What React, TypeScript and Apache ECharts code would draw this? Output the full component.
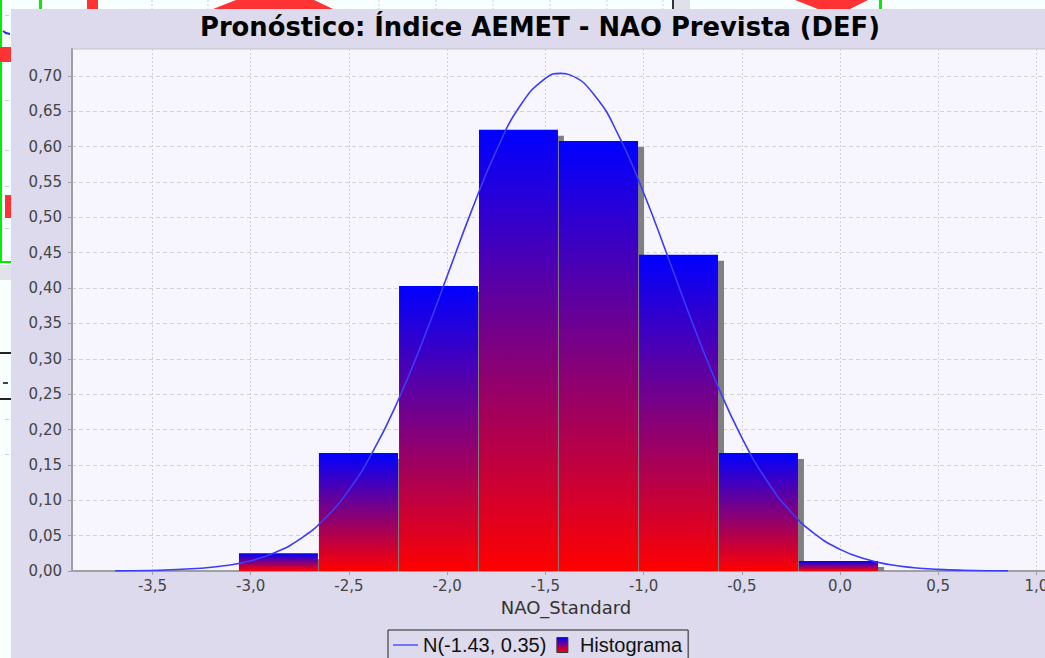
import React, { useEffect, useRef } from 'react';
import * as echarts from 'echarts';

// Histogram bins (edges) and densities
const binEdges = [-3.06, -2.653, -2.245, -1.838, -1.431, -1.023, -0.616, -0.209, 0.199];
const binHeights = [0.025, 0.167, 0.403, 0.624, 0.608, 0.447, 0.167, 0.014];

// Fitted curve points
const curveX = [-3.69, -3.5, -3.25, -3.125, -3.0, -2.875, -2.75, -2.625, -2.5, -2.375, -2.25, -2.125, -2.0, -1.875, -1.75, -1.625, -1.5, -1.42, -1.375, -1.25, -1.125, -1.0, -0.875, -0.75, -0.625, -0.5, -0.375, -0.25, -0.125, 0.0, 0.125, 0.25, 0.375, 0.5, 0.625, 0.855];
const curveY = [0.0002, 0.0008, 0.0039, 0.0077, 0.0145, 0.0262, 0.045, 0.0736, 0.1147, 0.1704, 0.241, 0.3248, 0.417, 0.5099, 0.594, 0.6591, 0.6966, 0.7036, 0.7014, 0.6727, 0.6145, 0.5348, 0.4433, 0.35, 0.2633, 0.1887, 0.1288, 0.0837, 0.0518, 0.0306, 0.0172, 0.0092, 0.0047, 0.0023, 0.0011, 0.0002];

// Tick values
const xTicks = [-3.5, -3.0, -2.5, -2.0, -1.5, -1.0, -0.5, 0.0, 0.5, 1.0];
const yTicks = [0, 0.05, 0.1, 0.15, 0.2, 0.25, 0.3, 0.35, 0.4, 0.45, 0.5, 0.55, 0.6, 0.65, 0.7];

const titleText = 'Pronóstico: Índice AEMET - NAO Prevista (DEF)';
const xName = 'NAO_Standard';
const curveName = 'N(-1.43, 0.35)';
const histName = 'Histograma';

export default function App() {
  const ref = useRef<HTMLDivElement>(null);
  useEffect(() => {
    const chart = echarts.init(ref.current as HTMLDivElement, undefined, { renderer: 'svg' });
    const grad = () =>
      new echarts.graphic.LinearGradient(0, 0, 0, 1, [
        { offset: 0, color: '#0000ff' },
        { offset: 1, color: '#ff0000' },
      ]);
    const barData = binHeights.map((h, i) => [binEdges[i], binEdges[i + 1], h]);
    const curveData = curveX.map((x, i) => [x, curveY[i]]);

    const red = '#ff3333';
    const green = '#00ee00';
    const topGridXs = [152, 208, 379, 436, 493, 550, 607, 663];
    const debris: any[] = [
      ...topGridXs.map((x) => ({
        type: 'line', z: -100, silent: true,
        shape: { x1: x, y1: 0, x2: x, y2: 9 },
        style: { stroke: '#cfcfcf', lineWidth: 1, lineDash: [2, 2] },
      })),
      { type: 'rect', z: -99, silent: true, shape: { x: 39, y: 0, width: 3, height: 9 }, style: { fill: green } },
      { type: 'rect', z: -99, silent: true, shape: { x: 87, y: 0, width: 11, height: 9 }, style: { fill: red } },
      { type: 'polygon', z: -99, silent: true, shape: { points: [[213, 9], [236, 0], [314, 0], [333, 9]] }, style: { fill: red } },
      { type: 'polygon', z: -99, silent: true, shape: { points: [[795, 0], [868, 0], [850, 9], [818, 9]] }, style: { fill: red } },
      { type: 'rect', z: -99, silent: true, shape: { x: 879, y: 0, width: 3, height: 9 }, style: { fill: green } },
      { type: 'rect', z: -99, silent: true, shape: { x: 674, y: 0, width: 16, height: 9 }, style: { fill: '#dfe0ea' } },
      { type: 'rect', z: -99, silent: true, shape: { x: 672, y: 0, width: 2, height: 9 }, style: { fill: '#333' } },
      { type: 'rect', z: -99, silent: true, shape: { x: 0, y: 0, width: 2, height: 263 }, style: { fill: green } },
      { type: 'rect', z: -99, silent: true, shape: { x: 0, y: 261, width: 11, height: 2 }, style: { fill: green } },
      { type: 'rect', z: -99, silent: true, shape: { x: 0, y: 47, width: 11, height: 15 }, style: { fill: red } },
      { type: 'rect', z: -99, silent: true, shape: { x: 5, y: 195, width: 6, height: 23 }, style: { fill: red } },
      { type: 'polyline', z: -99, silent: true, shape: { points: [[3, 31], [6, 33], [10, 34]] }, style: { stroke: '#2233dd', lineWidth: 2 } },
      { type: 'rect', z: -99, silent: true, shape: { x: 0, y: 265, width: 11, height: 15 }, style: { fill: '#e2e3ea' } },
      { type: 'rect', z: -99, silent: true, shape: { x: 0, y: 352, width: 11, height: 2 }, style: { fill: '#222' } },
      { type: 'rect', z: -99, silent: true, shape: { x: 0, y: 398, width: 11, height: 2 }, style: { fill: '#222' } },
      { type: 'rect', z: -99, silent: true, shape: { x: 3, y: 382, width: 5, height: 2 }, style: { fill: '#444' } },
      ...[15, 100, 150, 186, 228, 419, 454].map((y) => ({
        type: 'rect', z: -99, silent: true, shape: { x: 5, y, width: 4, height: 1 }, style: { fill: '#d0d0d0' },
      })),
      { type: 'rect', z: -90, silent: true, shape: { x: 11, y: 9, width: 1200, height: 800 }, style: { fill: '#DCDAEC' } },
    ];

    chart.setOption({
      animation: false,
      backgroundColor: '#F7FFFF',
      graphic: { elements: debris },
      title: {
        text: titleText,
        left: 'center',
        top: 12,
        padding: 0,
        textStyle: { fontFamily: 'DejaVu Sans', fontWeight: 'bold', fontSize: 25.8, lineHeight: 30, color: '#000' },
      },
      legend: {
        left: 388,
        top: 630,
        orient: 'horizontal',
        padding: [5, 6, 5, 5],
        itemGap: 10,
        itemWidth: 25,
        itemHeight: 15,
        borderColor: '#222',
        borderWidth: 1,
        borderRadius: 0,
        backgroundColor: '#DCDAEC',
        selectedMode: false,
        textStyle: { fontFamily: 'Liberation Sans', fontSize: 20, color: '#111' },
        data: [
          { name: curveName, icon: 'path://M0,0h25v1.6h-25z' },
          { name: histName, icon: 'path://M0,0h11v15h-11z', itemStyle: { borderColor: '#333', borderWidth: 1 } },
        ],
      },
      grid: {
        left: 72,
        right: 20,
        top: 49,
        bottom: 87,
        show: true,
        backgroundColor: '#F7F6FE',
        borderColor: '#c4c4c4',
        borderWidth: 1,
        containLabel: false,
      },
      xAxis: {
        type: 'value',
        min: -3.91,
        max: 1.12,
        splitNumber: 10,
        name: xName,
        nameLocation: 'middle',
        nameGap: 27,
        nameTextStyle: { fontFamily: 'DejaVu Sans', fontSize: 18, color: '#333' },
        axisLine: { show: true, onZero: false, lineStyle: { color: '#a0a0a0', width: 2 } },
        axisTick: { show: true, length: 4, customValues: xTicks, lineStyle: { color: '#a0a0a0' } },
        axisLabel: {
          customValues: xTicks,
          margin: 7,
          fontFamily: 'DejaVu Sans',
          fontSize: 15,
          color: '#444',
          formatter: (v: number) => v.toFixed(1).replace('.', ','),
        },
        splitLine: { show: true, lineStyle: { color: '#d2d2d2', type: [2, 2], width: 1 } },
      },
      yAxis: {
        type: 'value',
        min: 0,
        max: 0.738,
        axisLine: { show: true, onZero: false, lineStyle: { color: '#a0a0a0', width: 2 } },
        axisTick: { show: true, length: 4, customValues: yTicks, lineStyle: { color: '#a0a0a0' } },
        axisLabel: {
          customValues: yTicks,
          margin: 10,
          fontFamily: 'DejaVu Sans',
          fontSize: 15,
          color: '#444',
          formatter: (v: number) => v.toFixed(2).replace('.', ','),
        },
        splitLine: { show: true, lineStyle: { color: '#d2d2d2', type: [4, 3], width: 1 } },
      },
      series: [
        {
          type: 'custom',
          name: histName,
          data: barData,
          encode: { x: [0, 1], y: 2 },
          itemStyle: { color: grad() },
          z: 3,
          renderItem: (params: any, api: any) => {
            const x0 = api.value(0);
            const x1 = api.value(1);
            const h = api.value(2);
            const pTop = api.coord([x0, h]);
            const pBot = api.coord([x1, 0]);
            const left = pTop[0];
            const top = pTop[1];
            const right = pBot[0];
            const bottom = pBot[1];
            const w = right - left - 1;
            const hh = bottom - top;
            return {
              type: 'group',
              children: [
                {
                  type: 'rect',
                  shape: { x: left + 6, y: top + 6, width: w, height: Math.max(0, hh - 6) },
                  style: { fill: '#808080' },
                },
                {
                  type: 'rect',
                  shape: { x: left, y: top, width: w, height: hh },
                  style: { fill: grad() },
                },
              ],
            };
          },
        },
        {
          type: 'line',
          name: curveName,
          data: curveData,
          smooth: true,
          symbol: 'none',
          lineStyle: { color: '#3b3bff', width: 1.6 },
          itemStyle: { color: '#5a5aff' },
          z: 5,
        },
      ],
    });
    return () => chart.dispose();
  }, []);
  return (
    <div style={{ position: 'absolute', left: 0, top: 0, width: 1045, height: 658, overflow: 'hidden', background: '#F7FFFF' }}>
      <div ref={ref} style={{ width: 1080, height: 658 }} />
    </div>
  );
}
